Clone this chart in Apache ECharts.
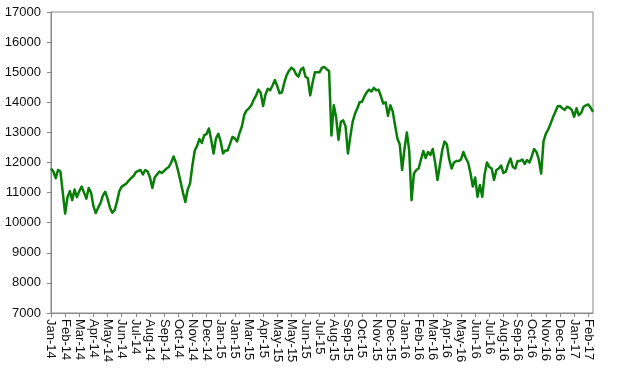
<!DOCTYPE html>
<html>
<head>
<meta charset="utf-8">
<script src="https://cdn.jsdelivr.net/npm/echarts@6/dist/echarts.min.js"></script>
<style>
html,body{margin:0;padding:0;background:#fff;}
#chart{width:618px;height:369px;}
</style>
</head>
<body>
<div id="chart"></div>
<script>
// Month tick labels (one every 6 points)
const tickLabels = ["Jan-14","Feb-14","Mar-14","Apr-14","May-14","Jun-14","Jul-14","Aug-14","Sep-14","Oct-14","Nov-14","Dec-14",
  "Jan-15","Jan-15","Mar-15","Apr-15","May-15","May-15","Jun-15","Jul-15","Aug-15","Sep-15","Oct-15","Nov-15","Dec-15",
  "Jan-16","Feb-16","Mar-16","Apr-16","May-16","Jun-16","Jul-16","Aug-16","Sep-16","Oct-16","Nov-16","Dec-16","Jan-17","Feb-17"];
const pointsPerTick = 6;

// Index values (2014)
const values2014 = [11800,11700,11480,11750,11700,11000,10300,10850,11050,10750,11100,10850,
  11050,11200,11000,10800,11150,11000,10550,10320,10500,10650,10900,11030,
  10800,10500,10330,10420,10700,11050,11200,11250,11300,11400,11480,11550,
  11680,11720,11750,11600,11750,11700,11500,11150,11500,11600,11700,11650,
  11720,11800,11850,12000,12200,12000,11700,11350,11000,10690,11100,11300,
  11900,12400,12550,12780,12650,12900,12950,13130,12750,12300,12800,12950];
// 2015
const values2015 = [12700,12300,12400,12400,12630,12850,12800,12700,12980,13200,13580,13730,
  13800,13900,14080,14220,14420,14320,13880,14250,14450,14400,14560,14740,
  14540,14300,14330,14650,14900,15050,15150,15090,14930,14850,15080,15150,
  14850,14800,14230,14650,15000,15000,15000,15150,15170,15100,15040,12900,
  13900,13500,12750,13350,13400,13200,12300,12850,13350,13620,13800,14000,
  14020,14200,14340,14420,14360,14480,14400,14420,14200,13960,14000,13550,
  13900,13700,13236,12800,12600,11750];
// 2016-2017
const values2016 = [12450,13000,12400,10750,11630,11750,11800,12100,12380,12150,12350,12250,
  12450,12000,11420,11900,12400,12700,12600,12100,11800,12000,12050,12050,
  12100,12350,12150,12000,11650,11200,11500,10860,11250,10860,11600,12000,
  11850,11800,11420,11750,11800,11900,11650,11700,11950,12130,11850,11800,
  12050,12050,12100,11950,12080,12000,12200,12450,12350,12100,11630,12700,
  12960,13100,13290,13500,13680,13870,13880,13800,13750,13850,13820,13750,
  13520,13800,13570,13650,13850,13900,13930,13820,13680];

const values = values2014.concat(values2015, values2016);
const seriesData = values.map((v, i) => [i, v]);

const chart = echarts.init(document.getElementById('chart'), null, {renderer: 'canvas'});
const font = "'Liberation Sans', Arial, sans-serif";
const axisGray = '#888888';
chart.setOption({
  animation: false,
  backgroundColor: '#ffffff',
  grid: {left: 51, right: 25, top: 12, bottom: 56, show: true, borderColor: axisGray, borderWidth: 1, backgroundColor: 'transparent'},
  xAxis: {
    type: 'value',
    min: 0,
    max: values.length - 1,
    interval: pointsPerTick,
    axisLine: {show: true, onZero: false, lineStyle: {color: axisGray, width: 1}},
    axisTick: {show: true, length: 4, lineStyle: {color: axisGray}},
    axisLabel: {
      hideOverlap: false,
      showMaxLabel: false,
      rotate: -90,
      margin: 6,
      fontFamily: font,
      fontSize: 13,
      lineHeight: 12,
      color: '#111',
      formatter: (val) => (val % pointsPerTick === 0 ? (tickLabels[val / pointsPerTick] || '') : '')
    },
    splitLine: {show: false}
  },
  yAxis: {
    type: 'value',
    min: 7000,
    max: 17000,
    interval: 1000,
    axisLine: {show: true, lineStyle: {color: axisGray, width: 1}},
    axisTick: {show: true, length: 4, lineStyle: {color: axisGray}},
    axisLabel: {margin: 10, fontFamily: font, fontSize: 13, color: '#111', formatter: (v) => String(v)},
    splitLine: {show: false}
  },
  series: [{
    type: 'line',
    data: seriesData,
    showSymbol: false,
    symbol: 'none',
    lineStyle: {color: '#087d08', width: 2.5, join: 'round'},
    itemStyle: {color: '#087d08'}
  }]
});
</script>
</body>
</html>
